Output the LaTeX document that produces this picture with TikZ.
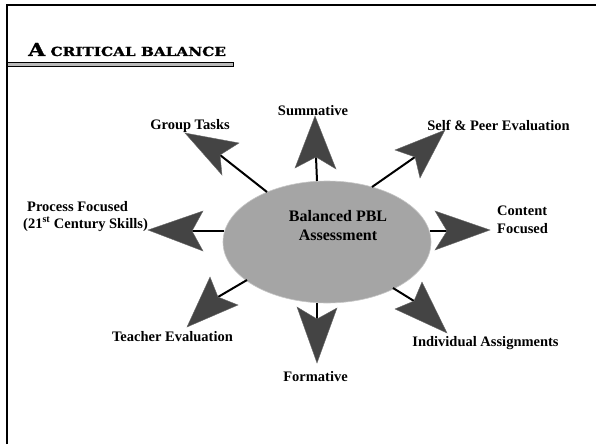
\documentclass[tikz,border=0pt]{standalone}
\usepackage{fontspec}
\setmainfont{Liberation Serif}
\newfontfamily\titlefont{DejaVu Serif}[BoldFeatures={FakeBold=1.2}]
\usetikzlibrary{shapes.geometric}
\definecolor{headgray}{RGB}{68,68,68}
\definecolor{ellgray}{RGB}{165,165,165}
\begin{document}
\begin{tikzpicture}[x=1pt,y=-1pt,
  lbl/.style={font=\fontsize{14.5}{17}\selectfont\bfseries, inner sep=0pt},
  ahead/.style={fill=headgray, draw=headgray!80, line width=0.4pt, line join=miter},
  conn/.style={draw=black, line width=2pt},
  frame/.style={draw=black, line width=1.6pt}
  ]
\useasboundingbox (0,0) rectangle (596,444);
\fill[white] (0,0) rectangle (596,444);
\draw[frame] (7,444) -- (7,5) -- (596,5);

% title
\node[anchor=base west, inner sep=0pt] (title) at (28,56)
  {\scalebox{1.22}[1]{\titlefont\bfseries\fontsize{18}{18}\selectfont A\fontsize{12.5}{12.5}\selectfont\ CRITICAL BALANCE}};
\draw[fill=gray!55, line width=0.8pt] (7,62) rectangle (233,66.5);

% central ellipse
\node[ellipse, fill=ellgray, draw=gray!45, line width=0.6pt,
      minimum width=208pt, minimum height=122pt, inner sep=0pt] (bal) at (327,242) {};
\node[font=\fontsize{16}{19}\selectfont\bfseries, align=center, anchor=base, inner sep=0pt]
  (baltext) at (338,240) {Balanced PBL\\Assessment};

% coordinates: S = start on ellipse, N = notch, T = tip, A/B = wings
\coordinate (sumS) at (317,181);  \coordinate (sumN) at (316,157);
\coordinate (sumT) at (315,116);  \coordinate (sumA) at (295,168); \coordinate (sumB) at (336,169);

\coordinate (grpS) at (267,192);  \coordinate (grpN) at (220,155);
\coordinate (grpT) at (185,133);  \coordinate (grpA) at (239,143); \coordinate (grpB) at (222,175);

\coordinate (selS) at (372,187);  \coordinate (selN) at (415,157);
\coordinate (selT) at (445,130);  \coordinate (selA) at (395,150); \coordinate (selB) at (420,178);

\coordinate (proS) at (224,231);  \coordinate (proN) at (192,231);
\coordinate (proT) at (148,230);  \coordinate (proA) at (203,211); \coordinate (proB) at (203,251);

\coordinate (conS) at (430,231);  \coordinate (conN) at (447,231);
\coordinate (conT) at (490,230);  \coordinate (conA) at (435,211); \coordinate (conB) at (435,250);

\coordinate (teaS) at (247,280);  \coordinate (teaN) at (218,297);
\coordinate (teaT) at (187,327);  \coordinate (teaA) at (210,277); \coordinate (teaB) at (238,305);

\coordinate (forS) at (317,303);  \coordinate (forN) at (317,319);
\coordinate (forT) at (317,363);  \coordinate (forA) at (297,307); \coordinate (forB) at (337,308);

\coordinate (indS) at (393,288);  \coordinate (indN) at (414,301);
\coordinate (indT) at (447,333);  \coordinate (indA) at (422,282); \coordinate (indB) at (395,309);

\foreach \n in {sum,grp,sel,pro,con,tea,for,ind}{
  \draw[conn] (\n S) -- (\n N);
  \filldraw[ahead] (\n T) -- (\n A) -- (\n N) -- (\n B) -- cycle;
}

% labels
\node[lbl, anchor=base] (lsum) at (313,115) {Summative};
\node[lbl, anchor=base] (lgrp) at (190,129) {Group Tasks};
\node[lbl, anchor=base] (lsel) at (498.5,130) {Self \& Peer Evaluation};
\node[lbl, anchor=base west, align=left] (lpro) at (23,228)
  {\hspace{4pt}Process Focused\\(21\textsuperscript{st} Century Skills)};
\node[lbl, anchor=base west, align=left, font=\fontsize{14.5}{18}\selectfont\bfseries] (lcon) at (497,233)
  {Content\\Focused};
\node[lbl, anchor=base] (ltea) at (172.5,341) {Teacher Evaluation};
\node[lbl, anchor=base] (lfor) at (315.5,381) {Formative};
\node[lbl, anchor=base] (lind) at (485.5,346) {Individual Assignments};
\end{tikzpicture}
\end{document}
